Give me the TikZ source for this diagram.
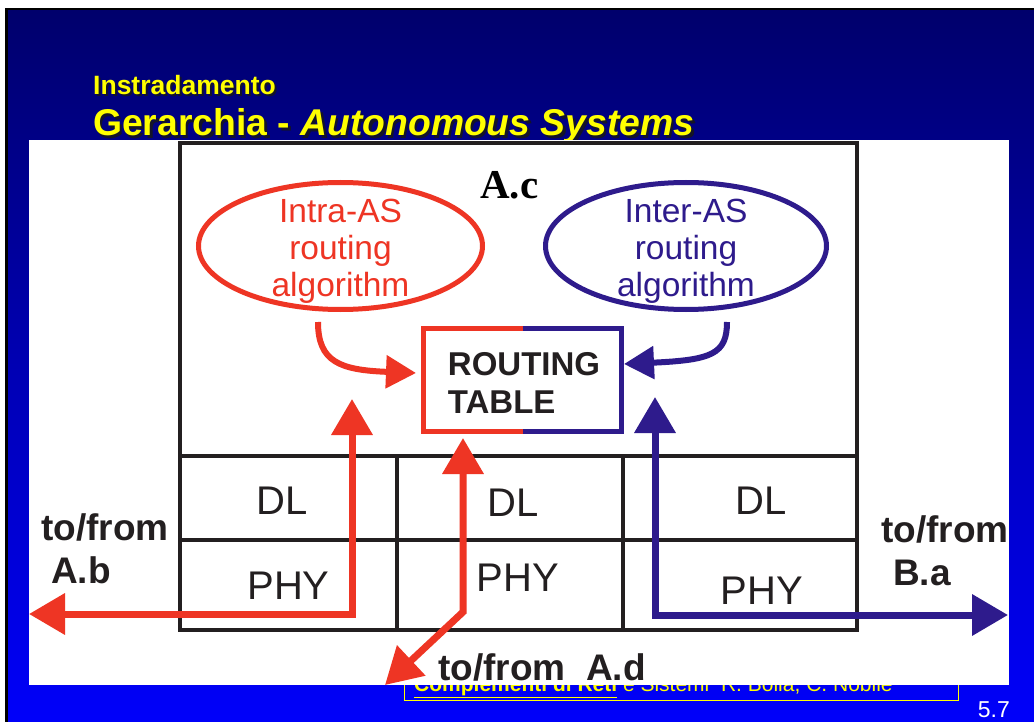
\documentclass[tikz,border=0pt]{standalone}
\usepackage{fontspec}
\setmainfont{Liberation Sans}
\newfontfamily\serifbold{Liberation Serif}[BoldFont=* Bold]
\usetikzlibrary{arrows.meta,shapes.geometric}

\definecolor{asred}{RGB}{238,53,36}
\definecolor{aspurple}{RGB}{46,27,140}
\definecolor{ink}{RGB}{35,31,32}
\definecolor{navytop}{RGB}{0,0,108}
\definecolor{bluebot}{RGB}{0,0,250}
\definecolor{slideyellow}{RGB}{255,255,0}
\definecolor{shadowgrey}{RGB}{20,20,40}

\newcommand\fsz[2]{\fontsize{#1}{#2}\selectfont}

\begin{document}
\begin{tikzpicture}[x=1pt,y=-1pt,
  inkline/.style={draw=ink,line width=4pt},
  layertxt/.style={inner sep=0pt,anchor=base,text=ink,font=\fsz{40}{48}},
  sidetxt/.style={inner sep=0pt,anchor=base west,text=ink,font=\bfseries\fsz{37}{44}},
  algoellipse/.style={ellipse,line width=5pt,inner sep=0pt,minimum height=127pt},
  algotxt/.style={inner sep=0pt,align=center,font=\fsz{33.5}{37}},
  flowred/.style={draw=asred,line width=7pt,
    arrows={Triangle[length=36pt,width=40pt]-Triangle[length=36pt,width=40pt]}},
  flowpurple/.style={draw=aspurple,line width=7pt,
    arrows={Triangle[length=36pt,width=40pt]-Triangle[length=36pt,width=40pt]}},
  feedarrow/.style={line width=6pt,arrows={-Triangle[length=30pt,width=32pt]}},
  titletxt/.style={inner sep=0pt,anchor=base west},
]
\useasboundingbox (0,0) rectangle (1034,722);

% slide background
\fill[white] (0,0) rectangle (1034,722);
\fill[black] (5,8) rectangle (1034,722);
\shade[top color=navytop,bottom color=bluebot] (8,11) rectangle (1034,722);

% slide titles with drop shadow
\node[titletxt,text=shadowgrey,font=\bfseries\fsz{26.5}{30}] (t1s) at (95,97) {Instradamento};
\node[titletxt,text=slideyellow,font=\bfseries\fsz{26.5}{30}] (t1) at (93,95) {Instradamento};
\node[titletxt,text=shadowgrey,font=\bfseries\fsz{37.3}{40}] (t2s) at (95.5,138.5) {Gerarchia - \textit{Autonomous Systems}};
\node[titletxt,text=slideyellow,font=\bfseries\fsz{37.3}{40}] (t2) at (93,136) {Gerarchia - \textit{Autonomous Systems}};

% footer
\draw[slideyellow,line width=1pt] (404,660) rectangle (958,700);
\node[titletxt,text=slideyellow,font=\fsz{21}{24}] (foot) at (414,691)
  {\textbf{\underline{Complementi di Reti}} e Sistemi\ \ R. Bolla, C. Nobile};
\node[inner sep=0pt,anchor=base east,text=white,font=\fsz{23}{26}] (pageno) at (1010,717) {5.7};

% figure panel
\fill[white] (29,140) rectangle (1009,685);

% router frame and protocol layers
\draw[inkline] (180,143) rectangle (857,630);
\draw[inkline] (182,456) -- (857,456);
\draw[inkline] (182,540) -- (857,540);
\draw[inkline] (397,456) -- (397,630);
\draw[inkline] (623,456) -- (623,630);

\node[layertxt] (dl1) at (282,514) {DL};
\node[layertxt] (phy1) at (288.5,599) {PHY};
\node[layertxt] (dl2) at (513,516) {DL};
\node[layertxt] (phy2) at (518,591) {PHY};
\node[layertxt] (dl3) at (761,514) {DL};
\node[layertxt] (phy3) at (762,604) {PHY};

% router name
\node[inner sep=0pt,anchor=base west,font=\serifbold\bfseries\fsz{41}{46}] (rname) at (480,199) {A.c};

% routing algorithms
\node[algoellipse,draw=asred,minimum width=284pt] (intra) at (340.5,246) {};
\node[algotxt,text=asred] (intratxt) at (340.5,251) {Intra-AS\\routing\\algorithm};
\node[algoellipse,draw=aspurple,minimum width=281pt] (inter) at (686,246) {};
\node[algotxt,text=aspurple] (intertxt) at (686,251) {Inter-AS\\routing\\algorithm};

% routing table
\node[inner sep=0pt,minimum width=197pt,minimum height=102pt] (rt) at (522.5,380) {};
\node[inner sep=0pt,align=left,text=ink,font=\bfseries\fsz{33}{38}] (rttxt) at (524,383) {ROUTING\\TABLE};
\draw[asred,line width=5pt] (rt.north) -- (rt.north west) -- (rt.south west) -- (rt.south);
\draw[aspurple,line width=5pt] (rt.north) -- (rt.north east) -- (rt.south east) -- (rt.south);

% algorithms feeding the table
\coordinate (intraout) at (318,322);
\coordinate (intrain) at (416,373);
\coordinate (interout) at (727,322);
\coordinate (interin) at (624,364);
\draw[feedarrow,draw=asred] (intraout) .. controls (318,362) and (340,370) .. (intrain);
\draw[feedarrow,draw=aspurple] (interout) .. controls (727,354) and (712,360) .. (interin);

% interfaces
\coordinate (abup) at (352,399);
\coordinate (abcorner) at (352,614);
\coordinate (abend) at (29,614);
\draw[flowred] (abup) -- (abcorner) -- (abend);

\coordinate (adup) at (463,438);
\coordinate (adcorner) at (463,612);
\coordinate (adend) at (385,685);
\draw[flowred] (adup) -- (adcorner) -- (adend);

\coordinate (baup) at (655,397);
\coordinate (bacorner) at (655,615);
\coordinate (baend) at (1008,615);
\draw[flowpurple] (baup) -- (bacorner) -- (baend);

% neighbour labels
\node[sidetxt] (ab1) at (41,540) {to/from};
\node[sidetxt] (ab2) at (51,583) {A.b};
\node[sidetxt] (ba1) at (881,542) {to/from};
\node[sidetxt] (ba2) at (893,585) {B.a};
\node[sidetxt] (ad) at (438,680) {to/from\ \ A.d};
\end{tikzpicture}
\end{document}
